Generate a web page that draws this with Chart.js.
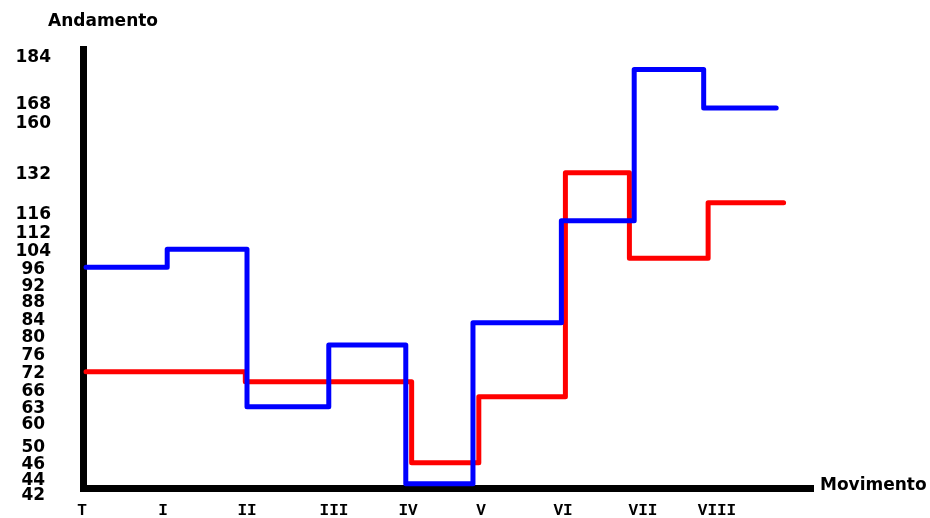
<!DOCTYPE html>
<html>
<head>
<meta charset="utf-8">
<script src="https://cdn.jsdelivr.net/npm/chart.js@4/dist/chart.umd.min.js"></script>
<style>
  html, body { margin: 0; padding: 0; background: #fff; }
  #wrap { width: 930px; height: 518px; }
</style>
</head>
<body>
<div id="wrap"><canvas id="c" width="930" height="518"></canvas></div>
<script>
// ---- data ----
const movements = ['T', 'I', 'II', 'III', 'IV', 'V', 'VI', 'VII', 'VIII'];
const movementIndex = [0, 1, 2, 3, 4, 5, 6, 7, 8];
const tempoTicks = [184, 168, 160, 132, 116, 112, 104, 96, 92, 88, 84, 80, 76, 72, 66, 63, 60, 50, 46, 44, 42];

// step boundaries (in movement units) and tempo held from each boundary
const blueStarts = [0.05, 1.05, 2.0, 2.94, 3.97, 4.89, 5.98, 6.89, 7.82, 8.8];
const blueTempo  = [96, 104, 63, 78, 43.3, 83, 114.3, 179.4, 165.8, 165.8];
const redStarts  = [0.05, 1.98, 4.05, 4.97, 6.03, 6.83, 7.88, 8.9];
const redTempo   = [72, 68.6, 46, 64.7, 132, 100, 120, 120];

// ---- layout (hand-drawn, non-uniform axes) ----
const AREA = { left: 83, right: 813, top: 49, bottom: 488 };
const Y_TICK_PX = [56, 102.7, 121.7, 172.7, 212.7, 231.7, 249.3, 267.3, 284.3, 300.5, 318.3, 336, 354, 371.7, 389.3, 406.7, 422.7, 445.7, 462.7, 478.3, 494];
const X_TICK_PX = [82, 163, 247, 334, 408, 481, 563, 643, 717];
const yPlaces = Y_TICK_PX.map(p => (p - AREA.top) / (AREA.bottom - AREA.top));
const xPlaces = X_TICK_PX.map(p => (p - AREA.left) / (AREA.right - AREA.left));

// piecewise-linear scale: maps anchor values to given fractional places along the axis
class PiecewiseScale extends Chart.Scale {
  static id = 'piecewise';
  static defaults = {};
  determineDataLimits() {
    const a = this.options.anchors;
    this.min = Math.min(...a);
    this.max = Math.max(...a);
  }
  buildTicks() {
    return this.options.anchors.map(v => ({ value: v }));
  }
  getLabelForValue(v) { return String(v); }
  _pairs() {
    const a = this.options.anchors, p = this.options.places;
    return a.map((v, i) => [v, p[i]]).sort((m, n) => m[0] - n[0]);
  }
  getPixelForValue(value) {
    const pr = this._pairs();
    let i = 0;
    while (i < pr.length - 2 && value > pr[i + 1][0]) i++;
    const [v0, f0] = pr[i], [v1, f1] = pr[i + 1];
    const f = f0 + (value - v0) / (v1 - v0) * (f1 - f0);
    const horiz = this.isHorizontal();
    const start = horiz ? this.left : this.top;
    const len = horiz ? (this.right - this.left) : (this.bottom - this.top);
    return start + f * len;
  }
  getPixelForTick(index) {
    return this.getPixelForValue(this.ticks[index].value);
  }
  getValueForPixel(pixel) {
    const pr = this._pairs();
    const horiz = this.isHorizontal();
    const start = horiz ? this.left : this.top;
    const len = horiz ? (this.right - this.left) : (this.bottom - this.top);
    const f = (pixel - start) / len;
    for (let i = 0; i < pr.length - 1; i++) {
      const [v0, f0] = pr[i], [v1, f1] = pr[i + 1];
      const lo = Math.min(f0, f1), hi = Math.max(f0, f1);
      if (f >= lo && f <= hi) return v0 + (f - f0) / (f1 - f0) * (v1 - v0);
    }
    return pr[0][0];
  }
  _computeLabelItems(chartArea) {
    const items = super._computeLabelItems(chartArea);
    const dy = this.options.labelShiftY || 0;
    items.forEach(it => {
      const t = it.options.translation;
      it.options.translation = [t[0], t[1] + dy];
    });
    return items;
  }
}
Chart.register(PiecewiseScale);

const toPoints = (xs, ys) => xs.map((x, i) => ({ x: x, y: ys[i] }));

const axisTitles = {
  id: 'axisTitles',
  afterDraw(chart) {
    const ctx = chart.ctx;
    ctx.save();
    ctx.font = 'bold 17px "DejaVu Sans"';
    ctx.fillStyle = '#000';
    ctx.textAlign = 'left';
    ctx.textBaseline = 'alphabetic';
    ctx.fillText('Andamento', 48, 26);
    ctx.fillText('Movimento', 820, 490);
    ctx.restore();
  }
};

new Chart(document.getElementById('c'), {
  type: 'line',
  data: {
    datasets: [
      {
        label: 'blu',
        data: toPoints(blueStarts, blueTempo),
        borderColor: '#0000ff',
        borderWidth: 5,
        stepped: true,
        pointRadius: 0,
        fill: false,
        borderJoinStyle: 'round',
        borderCapStyle: 'round'
      },
      {
        label: 'rosso',
        data: toPoints(redStarts, redTempo),
        borderColor: '#ff0000',
        borderWidth: 5,
        stepped: true,
        pointRadius: 0,
        fill: false,
        borderJoinStyle: 'round',
        borderCapStyle: 'round'
      }
    ]
  },
  options: {
    responsive: false,
    animation: false,
    devicePixelRatio: 1,
    layout: { padding: { left: 0, top: AREA.top, right: 930 - AREA.right, bottom: 0 } },
    plugins: { legend: { display: false }, tooltip: { enabled: false } },
    scales: {
      x: {
        type: 'piecewise',
        position: 'bottom',
        anchors: movementIndex,
        places: xPlaces,
        labelShiftY: 1,
        grid: { display: false, drawTicks: false },
        border: { display: true, color: '#000', width: 7 },
        ticks: {
          autoSkip: false,
          maxRotation: 0,
          padding: 12,
          color: '#000',
          font: { family: '"Liberation Mono"', weight: 'bold', size: 16 },
          callback: (v) => movements[v]
        },
        afterFit: (s) => { s.height = 518 - AREA.bottom; s.paddingLeft = 0; s.paddingRight = 0; }
      },
      y: {
        type: 'piecewise',
        position: 'left',
        anchors: tempoTicks,
        places: yPlaces,
        labelShiftY: 2,
        grid: { display: false, drawTicks: false },
        border: { display: true, color: '#000', width: 7 },
        ticks: {
          autoSkip: false,
          crossAlign: 'center',
          padding: 32,
          color: '#000',
          font: { family: '"DejaVu Sans"', weight: 'bold', size: 17 },
          callback: (v) => String(v)
        },
        afterFit: (s) => { s.width = AREA.left; s.paddingTop = 0; s.paddingBottom = 0; }
      }
    }
  },
  plugins: [axisTitles]
});
</script>
</body>
</html>
